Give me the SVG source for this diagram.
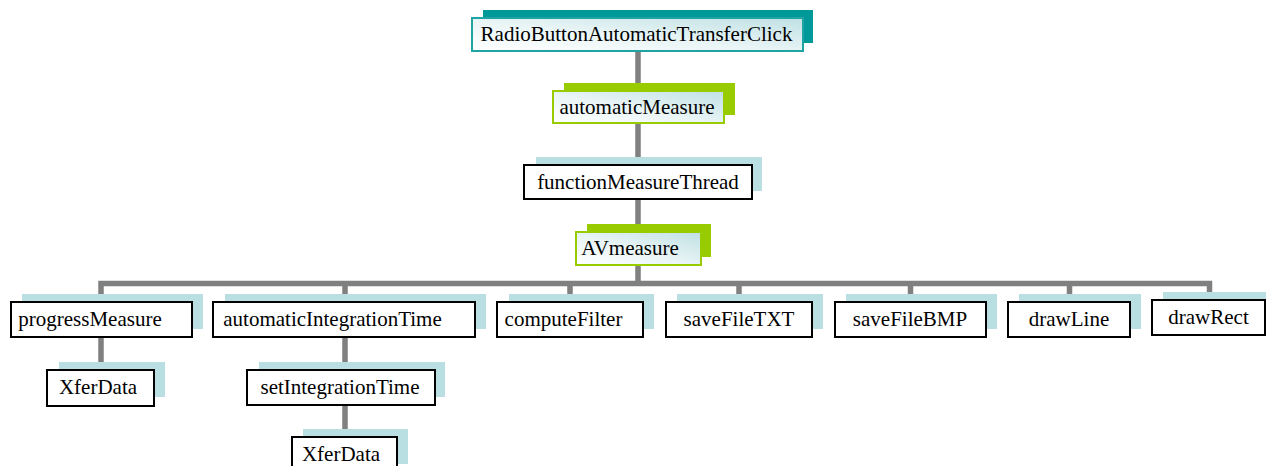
<svg xmlns="http://www.w3.org/2000/svg" width="1266" height="466" viewBox="0 0 1266 466">
<defs>
<linearGradient id="gl" x1="0" y1="1" x2="1" y2="0">
<stop offset="0" stop-color="#ffffff"/>
<stop offset="0.45" stop-color="#eaf5f6"/>
<stop offset="1" stop-color="#bfe0e4"/>
</linearGradient>
</defs>
<style>
.con{stroke:#808080;stroke-width:5.5;fill:none;stroke-linejoin:miter;stroke-linecap:butt}
.sh{fill:#b9dfe2}
.shT{fill:#009999}
.shG{fill:#99cc00}
.bx{fill:#ffffff;stroke:#000000;stroke-width:2}
.bxT{fill:url(#gl);stroke:#1fa3a3;stroke-width:2}
.bxG{fill:url(#gl);stroke:#99cc00;stroke-width:2}
.t{font-size:21px;fill:#000000;text-anchor:middle}
</style>
<rect width="1266" height="466" fill="#ffffff"/>
<g id="connectors">
<path class="con" d="M638,51V91M638,123V165M638,199V232M638,265V284"/>
<path class="con" d="M101,302V283.5H1209.5V300"/>
<path class="con" d="M345,283.5V302M570,283.5V302M739,283.5V302M910.5,283.5V302M1069.5,283.5V302"/>
<path class="con" d="M101,337V370M345,337V370M345,405V437"/>
</g>
<g font-family="'Liberation Serif', 'Times New Roman', Tinos, 'DejaVu Serif', serif">
<g id="n1"><rect class="shT" x="483" y="10" width="330" height="33"/><rect class="bxT" x="472" y="18" width="331" height="33"/><text class="t" x="636.5" y="41">RadioButtonAutomaticTransferClick</text></g>
<g id="n2"><rect class="shG" x="564" y="83" width="171" height="32"/><rect class="bxG" x="553" y="91" width="171" height="32"/><text class="t" x="637" y="114">automaticMeasure</text></g>
<g id="n3"><rect class="sh" x="536" y="157" width="226" height="34"/><rect class="bx" x="524" y="165" width="228" height="34"/><text class="t" x="638" y="188.5">functionMeasureThread</text></g>
<g id="n4"><rect class="shG" x="587" y="224" width="124" height="33"/><rect class="bxG" x="576" y="232" width="125" height="33"/><text class="t" x="630" y="255">AVmeasure</text></g>
<g id="n5"><rect class="sh" x="22" y="294" width="181" height="35"/><rect class="bx" x="11" y="302" width="181" height="35"/><text class="t" x="90" y="326">progressMeasure</text></g>
<g id="n6"><rect class="sh" x="225" y="294" width="261" height="35"/><rect class="bx" x="213" y="302" width="262" height="35"/><text class="t" x="332.5" y="326">automaticIntegrationTime</text></g>
<g id="n7"><rect class="sh" x="509" y="294" width="145" height="35"/><rect class="bx" x="497" y="302" width="146" height="35"/><text class="t" x="563.5" y="326">computeFilter</text></g>
<g id="n8"><rect class="sh" x="677" y="294" width="146" height="35"/><rect class="bx" x="666" y="302" width="146" height="35"/><text class="t" x="739" y="326">saveFileTXT</text></g>
<g id="n9"><rect class="sh" x="846" y="294" width="151" height="35"/><rect class="bx" x="835" y="302" width="151" height="35"/><text class="t" x="910" y="326">saveFileBMP</text></g>
<g id="n10"><rect class="sh" x="1019" y="294" width="122" height="35"/><rect class="bx" x="1008" y="302" width="122" height="35"/><text class="t" x="1069" y="326">drawLine</text></g>
<g id="n11"><rect class="sh" x="1163" y="292" width="113" height="35"/><rect class="bx" x="1152" y="300" width="113" height="35"/><text class="t" x="1208.5" y="324">drawRect</text></g>
<g id="n12"><rect class="sh" x="59" y="362" width="106" height="35"/><rect class="bx" x="47" y="370" width="107" height="36"/><text class="t" x="98" y="394">XferData</text></g>
<g id="n13"><rect class="sh" x="259" y="362" width="186" height="35"/><rect class="bx" x="247" y="370" width="188" height="35"/><text class="t" x="340" y="394">setIntegrationTime</text></g>
<g id="n14"><rect class="sh" x="303" y="429" width="105" height="35"/><rect class="bx" x="292" y="437" width="105" height="35"/><text class="t" x="341" y="461">XferData</text></g>
</g>
</svg>
